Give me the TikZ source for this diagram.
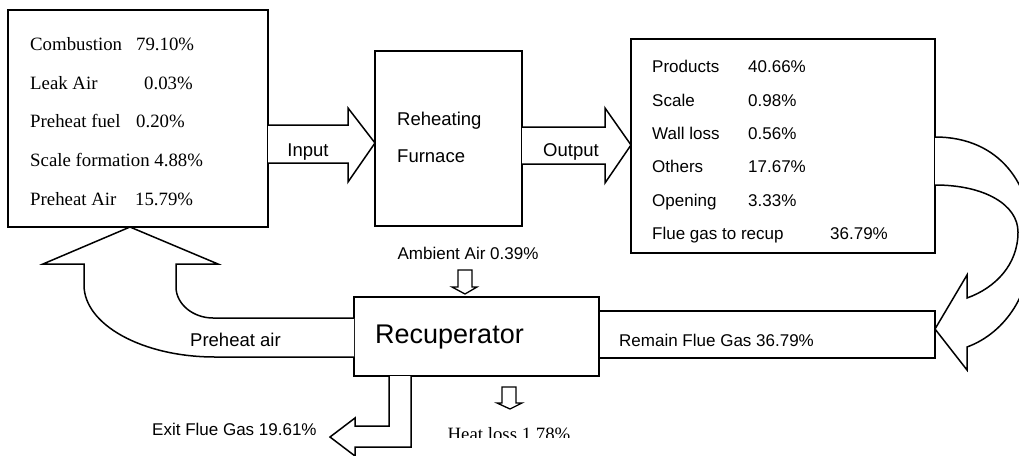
\documentclass[tikz,border=0pt]{standalone}
\usepackage{fontspec}
\setmainfont{Liberation Serif}
\setsansfont{Liberation Sans}
\begin{document}
\begin{tikzpicture}[x=1pt,y=-1pt,line join=miter,
  box/.style={draw,line width=1.5pt,rectangle,anchor=north west,inner sep=0pt,outer sep=0pt},
  flow/.style={draw,line width=1.5pt,fill=white},
  serif/.style={font=\rmfamily\fontsize{18.8}{20}\selectfont,inner sep=0pt,anchor=base west},
  sans/.style={font=\sffamily\fontsize{17}{20}\selectfont,inner sep=0pt,anchor=base west},
  bigsans/.style={font=\sffamily\fontsize{18.5}{21}\selectfont,inner sep=0pt,anchor=base west}]
\clip (0,0) rectangle (1019,455);
\useasboundingbox (0,0) rectangle (1019,455);

% process blocks
\node[box,minimum width=260pt,minimum height=217pt] (inbox) at (8,10) {};
\node[box,minimum width=147pt,minimum height=175pt] (furnace) at (375,51) {};
\node[box,minimum width=304pt,minimum height=214pt] (outbox) at (631,39) {};
\node[box,minimum width=245pt,minimum height=79pt] (recup) at (354,297) {};
\node[box,minimum width=336pt,minimum height=47pt] (remain) at (599,311) {};

% energy input shares
\node[serif] (c1) at (30,50) {\makebox[106pt][l]{Combustion}79.10\%};
\node[serif] (c2) at (30,89) {\makebox[114pt][l]{Leak Air}0.03\%};
\node[serif] (c3) at (30,127.5) {\makebox[106pt][l]{Preheat fuel}0.20\%};
\node[serif] (c4) at (30,166) {Scale formation 4.88\%};
\node[serif] (c5) at (30,205) {\makebox[105pt][l]{Preheat Air}15.79\%};

% furnace label
\node[bigsans] (f1) at (397,125) {Reheating};
\node[bigsans] (f2) at (397,162) {Furnace};

% energy output shares
\node[sans] (o1) at (652,72.5) {\makebox[96pt][l]{Products}40.66\%};
\node[sans] (o2) at (652,106) {\makebox[96pt][l]{Scale}0.98\%};
\node[sans] (o3) at (652,139) {\makebox[96pt][l]{Wall loss}0.56\%};
\node[sans] (o4) at (652,172.5) {\makebox[96pt][l]{Others}17.67\%};
\node[sans] (o5) at (652,206) {\makebox[96pt][l]{Opening}3.33\%};
\node[sans] (o6) at (652,239) {\makebox[178pt][l]{Flue gas to recup}36.79\%};

% Input and Output block arrows
\draw[flow] (inbox.east |- 0,125) -- (348,125) -- (348,108) -- (furnace.west |- 0,143) -- (348,182) -- (348,163) -- (inbox.east |- 0,163);
\node[bigsans,anchor=base] (inlbl) at (308,156) {Input};
\draw[flow] (furnace.east |- 0,127) -- (605,127) -- (605,108) -- (outbox.west |- 0,145) -- (605,183) -- (605,164) -- (furnace.east |- 0,164);
\node[bigsans,anchor=base] (outlbl) at (571,156) {Output};

% flue gas loop to the recuperator
\draw[flow] (outbox.east |- 0,137) .. controls (1000,137) and (1032,185) .. (1032,240)
  .. controls (1032,300) and (1000,335) .. (967,347) -- (967,370) -- (remain.east |- 0,329)
  -- (967,275) -- (967,298) .. controls (995,288) and (1018,265) .. (1018,232)
  .. controls (1018,205) and (985,185) .. (outbox.east |- 0,185);
\node[sans] (rlbl) at (619,346) {Remain Flue Gas 36.79\%};

% recuperator
\node[font=\sffamily\fontsize{27}{30}\selectfont,inner sep=0pt,anchor=base west] (rlabel) at (375,343.5) {Recuperator};

% preheated air back to the input
\draw[flow] (recup.west |- 0,318) -- (213,318) .. controls (193,318) and (176,304) .. (176,287)
  -- (176,264) -- (218,264) -- (inbox.south -| 130,0) -- (43,264) -- (84,264) -- (84,285)
  .. controls (84,325) and (143,357) .. (215,357) -- (recup.west |- 0,357);
\node[bigsans] (plbl) at (190,346) {Preheat air};

% ambient air in
\node[sans,anchor=base] (amb) at (468,259.5) {Ambient Air 0.39\%};
\draw[flow,line width=1.3pt] (458,270) -- (472,270) -- (472,287) -- (477,287) -- (465,294) -- (452,287) -- (458,287) -- cycle;

% heat loss out
\draw[flow,line width=1.3pt] (502,387) -- (516,387) -- (516,403) -- (522,403) -- (510,409) -- (497,403) -- (502,403) -- cycle;
\begin{scope}
\clip (420,380) rectangle (620,437.5);
\node[serif,font=\rmfamily\fontsize{18.8}{20}\selectfont,anchor=base] (hl) at (509,440) {Heat loss 1.78\%};
\end{scope}

% exit flue gas
\draw[flow] (recup.south -| 389,0) -- (389,426) -- (355,426) -- (355,418) -- (330,437) -- (355,456) -- (355,447) -- (411,447) -- (recup.south -| 411,0);
\node[sans] (exit) at (152,435) {Exit Flue Gas 19.61\%};
\end{tikzpicture}
\end{document}
